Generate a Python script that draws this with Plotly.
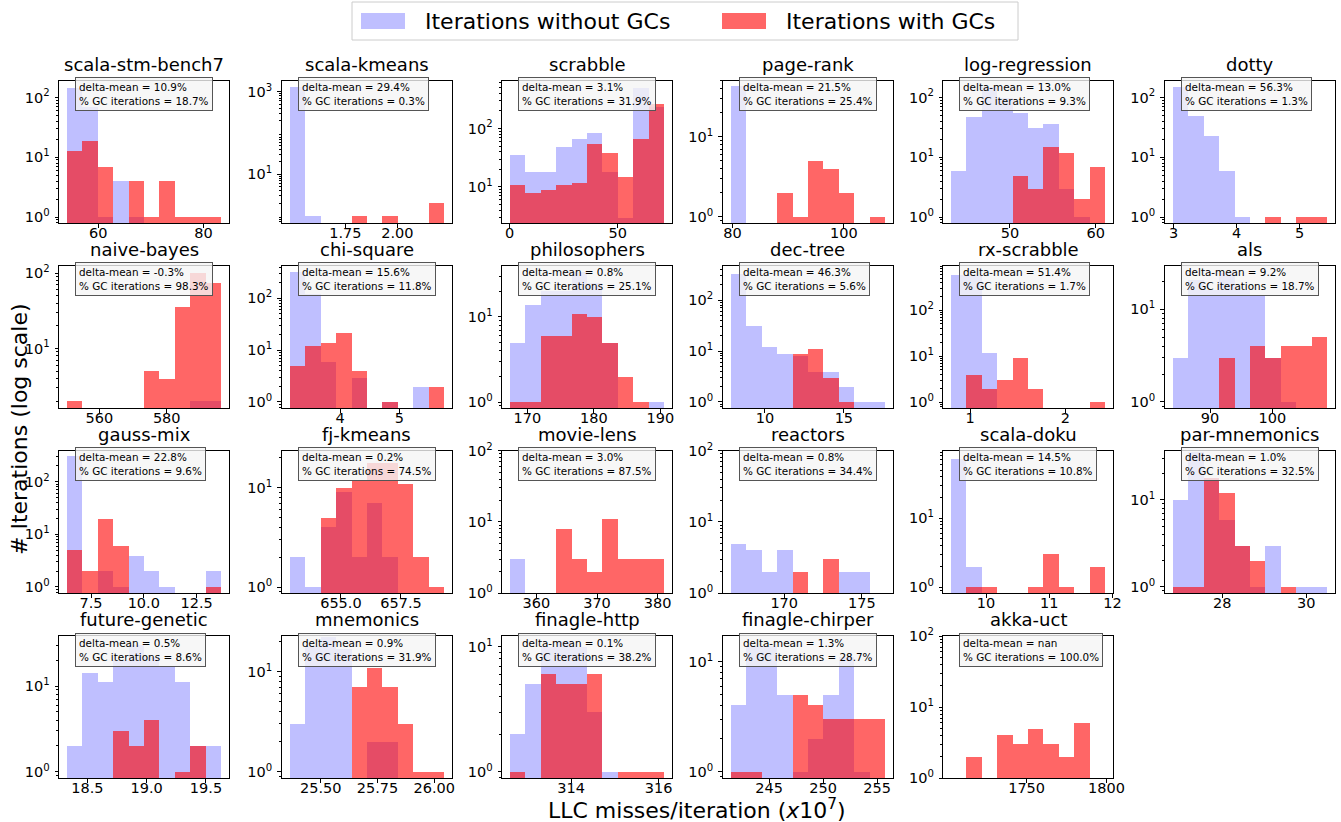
import numpy as np
import plotly.graph_objects as go

# ---------------- data ----------------
benchmarks = ["scala-stm-bench7", "scala-kmeans", "scrabble", "page-rank", "log-regression", "dotty",
              "naive-bayes", "chi-square", "philosophers", "dec-tree", "rx-scrabble", "als",
              "gauss-mix", "fj-kmeans", "movie-lens", "reactors", "scala-doku", "par-mnemonics",
              "future-genetic", "mnemonics", "finagle-http", "finagle-chirper", "akka-uct"]

# histogram bin range (10 equal bins between lo and hi), LLC misses/iteration (x1e7)
bin_lo = [54.0, 1.48, 0.0, 79.59, 43.12, 2.98, 550.3, 3.142, 167.35, 7.806, 0.80, 83.94,
          6.35, 652.85, 355.6, 166.52, 9.447, 26.81, 18.326, 25.361, 312.6, 241.39, 1702.7]
bin_hi = [83.4, 2.223, 71.5, 107.35, 61.16, 5.43, 596.2, 5.752, 190.6, 17.59, 2.423, 108.72,
          13.67, 659.28, 381.1, 176.48, 11.89, 30.49, 19.629, 26.042, 316.13, 255.71, 1799.4]

counts_without_gc = [
    [147, 70, 1, 4, 1, 0, 0, 0, 0, 0],
    [1320, 1, 0, 0, 0, 0, 0, 0, 0, 0],
    [35, 18, 18, 48, 66, 86, 18, 3, 500, 235],
    [44, 0, 0, 0, 0, 0, 0, 0, 0, 0],
    [6, 47, 150, 99, 55, 31, 37, 3, 1, 0],
    [151, 50, 23, 6, 1, 0, 0, 0, 0, 0],
    [0, 0, 0, 0, 0, 0, 0, 0, 2, 2],
    [328, 125, 6, 0, 3, 0, 1, 0, 2, 0],
    [5, 14, 20, 20, 34, 25, 5, 0, 0, 1],
    [335, 32, 12, 9, 8, 4, 4, 2, 1, 1],
    [600, 590, 12, 0, 0, 0, 0, 0, 0, 0],
    [3, 21, 16, 25, 16, 14, 3, 1, 0, 0],
    [308, 0, 2, 1, 4, 2, 1, 0, 0, 2],
    [2, 1, 4, 9, 2, 7, 2, 0, 0, 0],
    [3, 0, 0, 0, 0, 0, 0, 0, 0, 0],
    [5, 4, 2, 4, 0, 0, 0, 2, 2, 1],
    [72, 2, 0, 0, 0, 0, 0, 0, 0, 0],
    [10, 36, 18, 6, 3, 1, 3, 0, 1, 1],
    [2, 14, 11, 20, 30, 22, 17, 11, 2, 2],
    [3, 18, 22, 17, 0, 2, 2, 0, 0, 0],
    [2, 5, 10, 11, 10, 3, 1, 0, 0, 0],
    [4, 14, 14, 5, 1, 2, 5, 11, 1, 0],
    [0, 0, 0, 0, 0, 0, 0, 0, 0, 0],
]
counts_with_gc = [
    [13, 19, 7, 0, 4, 1, 4, 1, 1, 1],
    [0, 0, 0, 0, 1, 0, 1, 0, 0, 2],
    [11, 8, 9, 11, 12, 54, 39, 15, 68, 261],
    [0, 0, 0, 2, 1, 5, 4, 2, 0, 1],
    [0, 0, 0, 0, 5, 3, 15, 12, 2, 7],
    [0, 0, 0, 0, 0, 0, 1, 0, 1, 1],
    [2, 0, 0, 0, 0, 5, 4, 36, 101, 75],
    [5, 12, 14, 22, 4, 0, 1, 0, 0, 2],
    [1, 1, 6, 6, 11, 10, 5, 2, 1, 0],
    [0, 0, 0, 0, 9, 11, 3, 1, 0, 0],
    [0, 4, 2, 3, 9, 2, 0, 0, 0, 1],
    [0, 0, 0, 3, 0, 4, 3, 4, 4, 5],
    [5, 2, 20, 6, 0, 0, 0, 0, 0, 1],
    [0, 0, 5, 10, 12, 18, 18, 11, 2, 1],
    [0, 0, 0, 8, 3, 2, 11, 3, 3, 3],
    [0, 0, 0, 0, 2, 0, 3, 0, 0, 0],
    [0, 1, 1, 0, 0, 1, 3, 1, 0, 2],
    [1, 1, 18, 12, 3, 2, 0, 1, 0, 0],
    [0, 0, 0, 3, 2, 4, 0, 1, 2, 0],
    [0, 0, 0, 0, 7, 11, 7, 3, 1, 1],
    [1, 0, 6, 5, 5, 6, 0, 1, 1, 1],
    [1, 1, 0, 0, 5, 4, 3, 3, 3, 3],
    [1, 2, 0, 4, 3, 5, 3, 2, 6, 1],
]

delta_mean = ["10.9%", "29.4%", "3.1%", "21.5%", "13.0%", "56.3%", "-0.3%", "15.6%", "0.8%",
              "46.3%", "51.4%", "9.2%", "22.8%", "0.2%", "3.0%", "0.8%", "14.5%", "1.0%",
              "0.5%", "0.9%", "0.1%", "1.3%", "nan"]
gc_iterations = ["18.7%", "0.3%", "31.9%", "25.4%", "9.3%", "1.3%", "98.3%", "11.8%", "25.1%",
                 "5.6%", "1.7%", "18.7%", "9.6%", "74.5%", "87.5%", "34.4%", "10.8%", "32.5%",
                 "8.6%", "31.9%", "38.2%", "28.7%", "100.0%"]

x_tickvals = [[60, 80], [1.75, 2.0], [0, 50], [80, 100], [50, 60], [3, 4, 5], [560, 580], [3, 4, 5],
              [170, 180, 190], [10, 15], [1, 2], [90, 100], [7.5, 10, 12.5], [652.5, 655, 657.5],
              [360, 370, 380], [170, 175], [10, 11, 12], [28, 30], [18.5, 19, 19.5],
              [25.5, 25.75, 26], [314, 316], [245, 250, 255], [1750, 1800]]
x_ticktext = [["60", "80"], ["1.75", "2.00"], ["0", "50"], ["80", "100"], ["50", "60"], ["3", "4", "5"],
              ["560", "580"], ["3", "4", "5"], ["170", "180", "190"], ["10", "15"], ["1", "2"],
              ["90", "100"], ["7.5", "10.0", "12.5"], ["652.5", "655.0", "657.5"],
              ["360", "370", "380"], ["170", "175"], ["10", "11", "12"], ["28", "30"],
              ["18.5", "19.0", "19.5"], ["25.50", "25.75", "26.00"], ["314", "316"],
              ["245", "250", "255"], ["1750", "1800"]]

# ---------------- layout config ----------------
W, H = 1341, 822
col_left = [59.0, 281.5, 502.0, 722.5, 943.3, 1164.5]
ax_w = 170.0
row_top = [80.7, 265.7, 450.7, 636.0]
ax_h = 142.3
# log10 y ranges per panel
y_ranges = [[-0.10, 2.28], [-0.18, 3.27], [0.383, 2.817], [-0.075, 1.70], [-0.10, 2.28], [-0.10, 2.28],
            [0.209, 2.10], [-0.116, 2.63], [-0.07, 1.60], [-0.118, 2.675], [-0.13, 2.967], [-0.065, 1.468],
            [-0.114, 2.587], [-0.06, 1.371], [0.0, 2.0], [0.0, 2.0], [-0.087, 1.98], [-0.069, 1.565],
            [-0.078, 1.584], [-0.067, 1.357], [-0.053, 1.085], [-0.06, 1.233], [0.0, 2.0]]
y_tick_exps = [[0, 1, 2, 3]] * 23
y_tick_exps[1] = [1, 3]

BLUE = "rgba(0,0,255,0.25)"
RED = "rgba(255,0,0,0.6)"
FONT = "DejaVu Sans"

fig = go.Figure()
layout_axes = {}
annotations = []

minor_vals = [k * 10 ** e for e in range(-1, 4) for k in range(2, 10)]

for i, name in enumerate(benchmarks):
    n = i + 1
    r, c = divmod(i, 6)
    xa = "x" if n == 1 else f"x{n}"
    ya = "y" if n == 1 else f"y{n}"
    lo, hi = bin_lo[i], bin_hi[i]
    for counts, color in ((counts_without_gc[i], BLUE), (counts_with_gc[i], RED)):
        nb = len(counts)
        edges = np.linspace(lo, hi, nb + 1)
        centers = (edges[:-1] + edges[1:]) / 2
        widths = np.diff(edges)
        yv = [v if v > 0 else None for v in counts]
        fig.add_trace(go.Bar(x=centers, y=yv, width=widths, marker=dict(color=color, line=dict(width=0)),
                             xaxis=xa, yaxis=ya, showlegend=False, hoverinfo="skip"))
    x0 = col_left[c] / W
    x1 = (col_left[c] + ax_w) / W
    y1 = 1 - row_top[r] / H
    y0 = 1 - (row_top[r] + ax_h) / H
    span = hi - lo
    exps = y_tick_exps[i]
    yr = y_ranges[i]
    layout_axes["xaxis" if n == 1 else f"xaxis{n}"] = dict(
        domain=[x0, x1], anchor=ya, range=[lo - 0.05 * span, hi + 0.05 * span], automargin=False,
        tickmode="array", tickvals=x_tickvals[i], ticktext=x_ticktext[i],
        ticks="outside", ticklen=3.5, tickcolor="black", showline=True, linecolor="black",
        linewidth=1, mirror=True, showgrid=False, zeroline=False, ticklabelstandoff=-7,
        tickfont=dict(family=FONT, size=14.5, color="black"))
    layout_axes["yaxis" if n == 1 else f"yaxis{n}"] = dict(
        domain=[y0, y1], anchor=xa, type="log", range=yr, automargin=False,
        tickmode="array", tickvals=[10 ** e for e in exps if yr[0] - 1e-6 <= e <= yr[1] + 1e-6],
        ticktext=[f"10<sup>{e}</sup>" for e in exps if yr[0] - 1e-6 <= e <= yr[1] + 1e-6],
        ticks="outside", ticklen=3.5, tickcolor="black", showline=True, linecolor="black",
        linewidth=1, mirror=True, showgrid=False, zeroline=False, ticklabelstandoff=2,
        minor=dict(tickmode="array", tickvals=[v for v in minor_vals if yr[0] < np.log10(v) < yr[1]],
                   ticks="outside", ticklen=2, tickcolor="black", showgrid=False),
        tickfont=dict(family=FONT, size=14.5, color="black"))
    dom_x = "x domain" if n == 1 else f"x{n} domain"
    dom_y = "y domain" if n == 1 else f"y{n} domain"
    annotations.append(dict(text=name, xref=dom_x, yref=dom_y, x=0.5, y=1, xanchor="center",
                            yanchor="bottom", yshift=4, showarrow=False,
                            font=dict(family=FONT, size=18, color="black")))
    annotations.append(dict(text=f"delta-mean = {delta_mean[i]}<br>% GC iterations = {gc_iterations[i]}",
                            xref=dom_x, yref=dom_y, x=0, y=1, xanchor="left", yanchor="top",
                            xshift=16, yshift=3.5, showarrow=False, align="left",
                            bgcolor="rgba(245,245,245,0.8)", bordercolor="#555555", borderwidth=1,
                            borderpad=3, font=dict(family=FONT, size=10.4, color="black")))

# global axis titles
annotations.append(dict(text="LLC misses/iteration (<i>x</i>10<sup>7</sup>)", xref="paper", yref="paper",
                        x=697 / W, y=1 - 809 / H, xanchor="center", yanchor="middle", showarrow=False,
                        font=dict(family=FONT, size=22, color="black")))
annotations.append(dict(text="# Iterations (log scale)", xref="paper", yref="paper",
                        x=19 / W, y=1 - 429 / H, xanchor="center", yanchor="middle", showarrow=False,
                        textangle=-90, font=dict(family=FONT, size=22, color="black")))

# legend (drawn as figure decoration)
legend_items = ["Iterations without GCs", "Iterations with GCs"]
shapes = [dict(type="rect", xref="paper", yref="paper", x0=352 / W, x1=1018 / W, y0=1 - 40 / H, y1=1 - 2 / H,
               line=dict(color="#cccccc", width=1), fillcolor="white", layer="above")]
patch_x = [361, 722]
text_x = [423, 784]
for k, (label, color) in enumerate(zip(legend_items, [BLUE, RED])):
    shapes.append(dict(type="rect", xref="paper", yref="paper", x0=patch_x[k] / W, x1=(patch_x[k] + 44) / W,
                       y0=1 - 29 / H, y1=1 - 13 / H, line=dict(width=0), fillcolor=color, layer="above"))
    annotations.append(dict(text=label, xref="paper", yref="paper", x=text_x[k] / W, y=1 - 21 / H,
                            xanchor="left", yanchor="middle", showarrow=False,
                            font=dict(family=FONT, size=22, color="black")))

fig.update_layout(width=W, height=H, margin=dict(l=0, r=0, t=0, b=0, pad=0, autoexpand=False), autosize=False,
                  paper_bgcolor="white", plot_bgcolor="white", barmode="overlay", bargap=0,
                  showlegend=False, annotations=annotations, shapes=shapes, **layout_axes)

fig.write_html("out.html", config={"displayModeBar": False},
               post_script="document.body.style.margin='0px';document.body.style.overflow='hidden';")
